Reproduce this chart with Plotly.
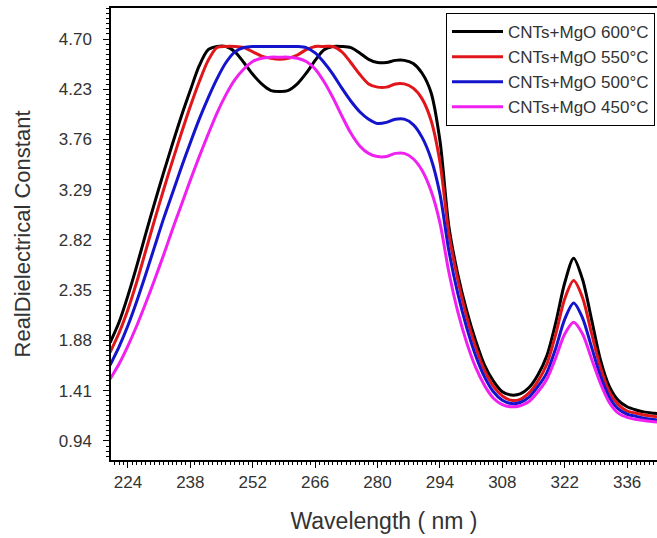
import plotly.graph_objects as go

wavelength = [220, 222, 224, 226, 228, 230, 232, 234, 236, 238, 240, 242, 244, 246, 248, 250,
              252, 254, 256, 258, 260, 262, 264, 266, 268, 270, 272, 274, 276, 278, 280, 282,
              284, 286, 288, 290, 292, 294, 296, 298, 300, 302, 304, 306, 308, 310, 312, 314,
              316, 318, 320, 322, 324, 326, 328, 330, 332, 334, 336, 338, 340, 342, 344]

eps_600 = [1.86, 2.05, 2.30, 2.58, 2.88, 3.17, 3.45, 3.72, 3.98, 4.22, 4.45, 4.60, 4.63, 4.63, 4.58, 4.48,
           4.37, 4.28, 4.22, 4.21, 4.22, 4.28, 4.38, 4.50, 4.60, 4.63, 4.63, 4.62, 4.57, 4.51, 4.48, 4.48,
           4.50, 4.50, 4.47, 4.38, 4.20, 3.75, 2.95, 2.50, 2.16, 1.88, 1.65, 1.50, 1.40, 1.37, 1.38, 1.44,
           1.56, 1.74, 2.05, 2.42, 2.65, 2.45, 2.08, 1.70, 1.45, 1.32, 1.26, 1.23, 1.21, 1.20, 1.19]

eps_550 = [1.77, 1.95, 2.17, 2.43, 2.72, 3.01, 3.29, 3.56, 3.82, 4.07, 4.30, 4.50, 4.62, 4.63, 4.63, 4.62,
           4.58, 4.54, 4.52, 4.51, 4.52, 4.55, 4.60, 4.63, 4.63, 4.63, 4.58, 4.48, 4.37, 4.28, 4.25, 4.25,
           4.28, 4.28, 4.24, 4.14, 3.94, 3.55, 2.88, 2.45, 2.10, 1.82, 1.60, 1.45, 1.36, 1.32, 1.33, 1.39,
           1.50, 1.66, 1.94, 2.27, 2.44, 2.28, 1.95, 1.63, 1.40, 1.28, 1.22, 1.20, 1.18, 1.17, 1.16]

eps_500 = [1.65, 1.82, 2.02, 2.25, 2.50, 2.76, 3.02, 3.26, 3.50, 3.73, 3.95, 4.15, 4.33, 4.48, 4.58, 4.62,
           4.63, 4.63, 4.63, 4.63, 4.63, 4.63, 4.62, 4.57, 4.48, 4.37, 4.24, 4.12, 4.02, 3.95, 3.91, 3.92,
           3.95, 3.95, 3.90, 3.78, 3.58, 3.25, 2.72, 2.32, 2.00, 1.74, 1.54, 1.40, 1.32, 1.29, 1.30, 1.35,
           1.45, 1.58, 1.81, 2.08, 2.23, 2.09, 1.82, 1.55, 1.35, 1.24, 1.19, 1.17, 1.15, 1.14, 1.13]

eps_450 = [1.52, 1.66, 1.83, 2.02, 2.23, 2.45, 2.68, 2.92, 3.15, 3.38, 3.60, 3.81, 4.01, 4.18, 4.32, 4.42,
           4.49, 4.52, 4.53, 4.53, 4.53, 4.52, 4.49, 4.42, 4.30, 4.15, 3.98, 3.82, 3.70, 3.63, 3.60, 3.60,
           3.63, 3.63, 3.58, 3.47, 3.28, 2.98, 2.52, 2.15, 1.86, 1.63, 1.46, 1.34, 1.28, 1.26, 1.27, 1.31,
           1.40, 1.52, 1.72, 1.94, 2.05, 1.94, 1.71, 1.48, 1.30, 1.20, 1.16, 1.14, 1.13, 1.12, 1.11]

series_names = ["CNTs+MgO 600°C", "CNTs+MgO 550°C", "CNTs+MgO 500°C", "CNTs+MgO 450°C"]
series_values = [eps_600, eps_550, eps_500, eps_450]
series_colors = ["#000000", "#e0161b", "#1414cc", "#f020f0"]

x_ticks = [224, 238, 252, 266, 280, 294, 308, 322, 336]
y_ticks = [0.94, 1.41, 1.88, 2.35, 2.82, 3.29, 3.76, 4.23, 4.70]

fig = go.Figure()
for name, vals, col in zip(series_names, series_values, series_colors):
    fig.add_trace(go.Scatter(
        x=wavelength, y=vals, mode="lines", name=name,
        line=dict(color=col, width=3, shape="spline", smoothing=0.8),
    ))

FONT = "Liberation Sans, Arial, sans-serif"
fig.update_layout(
    width=657, height=538,
    margin=dict(l=111, r=0, t=8, b=78, autoexpand=False),
    paper_bgcolor="white", plot_bgcolor="white",
    font=dict(family=FONT, color="#333333", size=16),
    showlegend=True,
    legend=dict(
        x=(446 - 111) / 546, y=(460 - 13) / 452, xanchor="left", yanchor="top",
        bordercolor="#000000", borderwidth=1, bgcolor="white",
        font=dict(family=FONT, size=17, color="#333333"),
        itemwidth=51, tracegroupgap=0,
    ),
    xaxis=dict(
        range=[220.2, 342.7], showgrid=False, zeroline=False,
        showline=True, linecolor="black", linewidth=1.5, mirror=True,
        ticks="outside", ticklen=6, tickwidth=1, tickcolor="black",
        tickvals=x_ticks, ticktext=[str(v) for v in x_ticks],
        tickfont=dict(size=17, color="#333333"),
        minor=dict(ticks="outside", ticklen=3, tickcolor="black", dtick=1, tick0=224, showgrid=False),
        title=dict(text="Wavelength ( nm )", font=dict(size=23, color="#333333"), standoff=22),
    ),
    yaxis=dict(
        range=[0.762, 4.99], showgrid=False, zeroline=False,
        showline=True, linecolor="black", linewidth=1.5, mirror=False,
        ticks="outside", ticklen=6, tickwidth=1, tickcolor="black",
        tickvals=y_ticks, ticktext=[f"{v:.2f}" for v in y_ticks],
        tickfont=dict(size=17, color="#333333"),
        ticklabelstandoff=8,
        minor=dict(ticks="outside", ticklen=3, tickcolor="black", dtick=0.047, tick0=0.94, showgrid=False),
        title=dict(text="RealDielectrical Constant", font=dict(size=22, color="#333333"), standoff=22),
    ),
)

fig.write_html("out.html")
